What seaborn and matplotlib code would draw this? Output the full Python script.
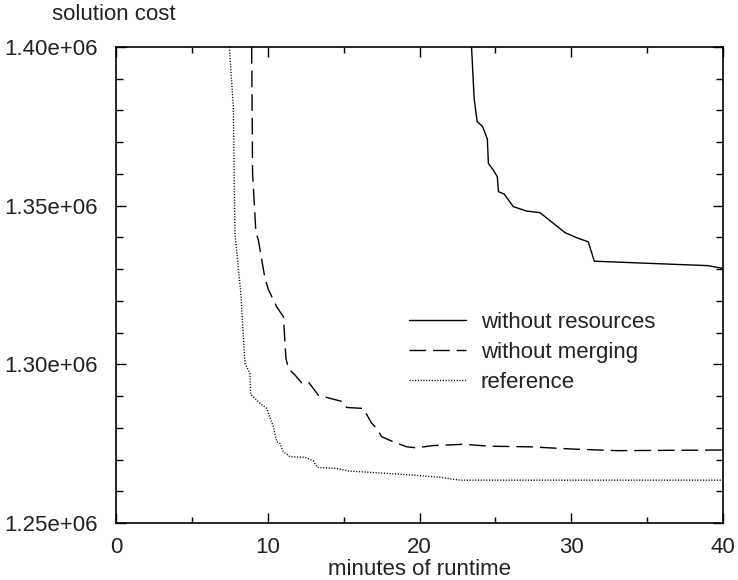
import matplotlib
matplotlib.use("Agg")
import matplotlib.pyplot as plt
import seaborn as sns
import pandas as pd
from matplotlib.ticker import MultipleLocator, FuncFormatter

# ---- data ----
res_x = [23.43, 23.6, 23.8, 24.16, 24.47, 24.54, 24.87, 25.13, 25.2, 25.57, 26.18,
         27.06, 27.94, 29.59, 30.36, 31.12, 31.52, 39.03, 40.0]
res_y = [1.4000e6, 1.3838e6, 1.3765e6, 1.3749e6, 1.3710e6, 1.3633e6, 1.3612e6, 1.3591e6,
         1.3544e6, 1.3537e6, 1.3497e6, 1.3483e6, 1.3478e6, 1.3415e6, 1.3399e6, 1.3386e6,
         1.3325e6, 1.3311e6, 1.3302e6]

mer_x = [8.94, 9.0, 9.22, 9.38, 9.82, 10.04, 10.59, 11.03, 11.2, 11.36, 11.8, 12.23,
         12.67, 13.0, 13.33, 14.1, 14.98, 15.2, 16.3, 16.85, 17.18, 17.5, 18.27, 19.16,
         19.8, 20.9, 22.9, 24.65, 27.3, 30.1, 33.0, 40.0]
mer_y = [1.4000e6, 1.3602e6, 1.3415e6, 1.3392e6, 1.3270e6, 1.3236e6, 1.3181e6, 1.3150e6,
         1.3019e6, 1.2987e6, 1.2966e6, 1.2942e6, 1.2945e6, 1.2924e6, 1.2903e6, 1.2893e6,
         1.2882e6, 1.2864e6, 1.2861e6, 1.2814e6, 1.2798e6, 1.2772e6, 1.2756e6, 1.2740e6,
         1.2737e6, 1.2744e6, 1.2748e6, 1.2742e6, 1.2740e6, 1.2733e6, 1.2728e6, 1.2730e6]

ref_x = [7.47, 7.73, 7.84, 8.17, 8.21, 8.5, 8.83, 8.87, 9.49, 9.93, 10.37, 10.59, 10.8,
         11.03, 11.47, 12.45, 13.0, 13.27, 14.54, 15.31, 19.6, 21.35, 22.67, 40.0]
ref_y = [1.4000e6, 1.3812e6, 1.3413e6, 1.3250e6, 1.3234e6, 1.3003e6, 1.2972e6, 1.2906e6,
         1.2877e6, 1.2861e6, 1.2803e6, 1.2756e6, 1.2751e6, 1.2724e6, 1.2709e6, 1.2707e6,
         1.2696e6, 1.2675e6, 1.2672e6, 1.2664e6, 1.2651e6, 1.2644e6, 1.2635e6, 1.2635e6]

labels = ["without resources", "without merging", "reference"]

sns.set_style("ticks")
plt.rcParams['font.family'] = ['Liberation Sans', 'DejaVu Sans']
TXT = "#222222"
FS = 16

fig = plt.figure(figsize=(7.38, 5.8), dpi=100)
ax = fig.add_axes([116/738, 1-523/580, (723-116)/738, (523-47)/580])

DASH = (12, 5)
DOT = (0.8, 1.2)
series = [(res_x, res_y, labels[0], None),
          (mer_x, mer_y, labels[1], DASH),
          (ref_x, ref_y, labels[2], DOT)]
for xs, ys, lab, dash in series:
    df = pd.DataFrame({"x": xs, "y": ys})
    sns.lineplot(data=df, x="x", y="y", ax=ax, color="black", lw=1.0,
                 sort=False, estimator=None, label=lab)
    if dash is not None:
        ax.lines[-1].set_dashes(dash)

ax.set_xlim(0, 40)
ax.set_ylim(1.25e6, 1.40e6)
ax.xaxis.set_major_locator(MultipleLocator(10))
ax.xaxis.set_minor_locator(MultipleLocator(5))
ax.yaxis.set_major_locator(MultipleLocator(5e4))
ax.yaxis.set_minor_locator(MultipleLocator(1e4))
ax.yaxis.set_major_formatter(FuncFormatter(lambda v, p: f"{v:.2e}"))
ax.tick_params(which="both", direction="in", top=True, right=True, width=1.0,
               labelsize=FS, colors="black", labelcolor=TXT)
ax.tick_params(which="major", length=7)
ax.tick_params(axis="x", which="major", pad=10)
ax.tick_params(axis="y", which="major", pad=13)
ax.tick_params(which="minor", length=4)
ax.tick_params(axis="y", which="minor", length=5)
for s in ax.spines.values():
    s.set_linewidth(1.2)
    s.set_color("black")

ax.set_xlabel("minutes of runtime", fontsize=FS, labelpad=1, color=TXT)
ax.set_ylabel("")
fig.text(114/738, 1-15/580, "solution cost", fontsize=FS, ha="center", va="center",
         color=TXT)

leg = ax.legend(loc="upper left", bbox_to_anchor=(0.482, 0.443), frameon=False,
                fontsize=FS, handlelength=2.6, handletextpad=0.65, labelspacing=0.4,
                borderaxespad=0, borderpad=0)
for t in leg.get_texts():
    t.set_color(TXT)
hl = leg.get_lines()
hl[1].set_dashes(DASH)
hl[2].set_dashes(DOT)

fig.savefig("out.png", dpi=100)
